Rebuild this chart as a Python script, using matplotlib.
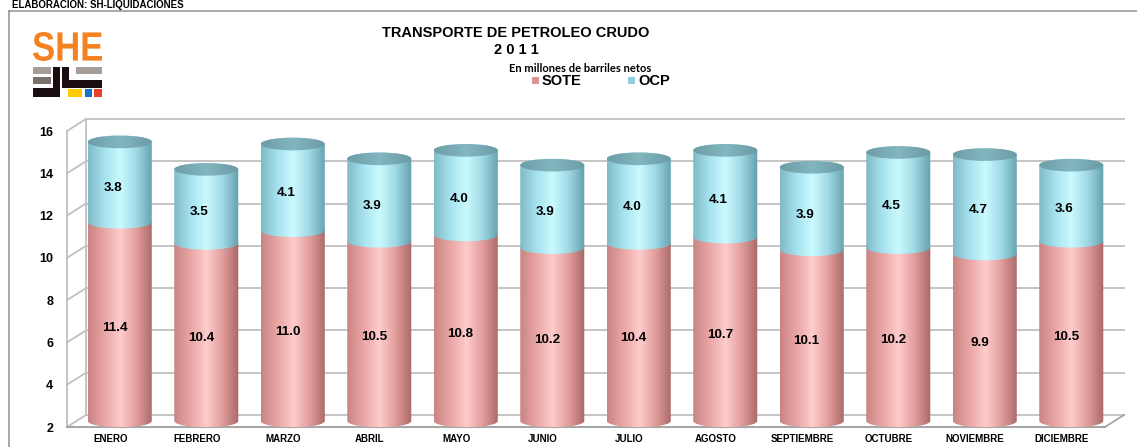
import numpy as np
import matplotlib.pyplot as plt
from matplotlib.colors import LinearSegmentedColormap
from matplotlib.patches import PathPatch, Ellipse, Rectangle
from matplotlib.path import Path
from matplotlib.textpath import TextPath
from matplotlib.font_manager import FontProperties
from matplotlib.transforms import Affine2D

plt.rcParams['font.family'] = ['Liberation Sans', 'DejaVu Sans']

meses = ['ENERO', 'FEBRERO', 'MARZO', 'ABRIL', 'MAYO', 'JUNIO', 'JULIO',
         'AGOSTO', 'SEPTIEMBRE', 'OCTUBRE', 'NOVIEMBRE', 'DICIEMBRE']
sote = [11.4, 10.4, 11.0, 10.5, 10.8, 10.2, 10.4, 10.7, 10.1, 10.2, 9.9, 10.5]
ocp = [3.8, 3.5, 4.1, 3.9, 4.0, 3.9, 4.0, 4.1, 3.9, 4.5, 4.7, 3.6]
y_ticks = [2, 4, 6, 8, 10, 12, 14, 16]

# 3d look
dx = 0.22      # depth in category units
dy = 0.57      # depth in value units
w = 0.37       # cylinder half width
eh = 0.30      # ellipse half height
ymin, ymax = 2, 16

cmap_sote = LinearSegmentedColormap.from_list('sote', ['#c98584', '#e8a5a4', '#ffcccc', '#e19d9c', '#a96767'])
cmap_ocp = LinearSegmentedColormap.from_list('ocp', ['#7fbac6', '#a6e2ee', '#cafaff', '#9fd8e4', '#62a0ad'])
cmap_top = LinearSegmentedColormap.from_list('top', ['#6d9ea8', '#84b6c0', '#6a9ba5'])
grad = np.linspace(0, 1, 256).reshape(1, -1)


def cylinder(ax, cx, y0, y1, cmap):
    t1 = np.linspace(np.pi, 2 * np.pi, 40)
    t2 = np.linspace(0, np.pi, 40)
    c = dy / 2
    xs = np.concatenate([cx + w * np.cos(t1), cx + w * np.cos(t2)])
    ys = np.concatenate([y0 + c + eh * np.sin(t1), y1 + c + eh * np.sin(t2)])
    verts = np.column_stack([xs, ys])
    verts = np.vstack([verts, verts[:1]])
    patch = PathPatch(Path(verts, closed=True), facecolor='none', edgecolor='none')
    ax.add_patch(patch)
    im = ax.imshow(grad, cmap=cmap, aspect='auto', extent=[cx - w, cx + w, y0 - 0.1, y1 + dy + 0.1],
                   interpolation='bilinear', zorder=3)
    im.set_clip_path(patch)


fig = plt.figure(figsize=(11.37, 4.47), dpi=100)

# frame and header
fig.add_artist(plt.Line2D([9 / 1137, 1.0], [1 - 11 / 447, 1 - 11 / 447], color='#999999', lw=1.2))
fig.add_artist(plt.Line2D([9 / 1137, 9 / 1137], [0, 1 - 11 / 447], color='#999999', lw=1.2))
fig.text(12 / 1137, 1 - 8 / 447, 'ELABORACION: SH-LIQUIDACIONES', fontsize=7, fontweight='bold',
         va='baseline', ha='left')

# logo
lg = fig.add_axes([0, 0, 1, 1])
lg.set_xlim(0, 1137)
lg.set_ylim(447, 0)
lg.axis('off')
tp = TextPath((0, 0), 'SHE', size=1, prop=FontProperties(family='Liberation Sans', weight='bold'))
ext = tp.get_extents()
tr = Affine2D().translate(-ext.x0, -ext.y0).scale(69 / ext.width, -29 / ext.height).translate(33, 61)
lg.add_patch(PathPatch(tr.transform_path(tp), color='#f58220', lw=0))
for (x, y, ww, hh, c) in [(33, 67, 18, 7, '#a49d98'), (33, 77, 18, 7, '#7b716c'),
                           (76, 67, 26, 7, '#a49d98'), (33, 88, 26, 9, '#1a0d0f'),
                           (53, 67, 7, 30, '#1a0d0f'), (62, 67, 7, 21, '#1a0d0f'),
                           (62, 80, 40, 8, '#1a0d0f'), (68, 89, 14, 8, '#ffcc00'),
                           (85, 89, 7, 8, '#1874c4'), (94, 89, 8, 8, '#e8402a')]:
    lg.add_patch(Rectangle((x, y), ww, hh, color=c, lw=0))

# title
fig.text(516 / 1137, 1 - 33 / 447, 'TRANSPORTE DE PETROLEO CRUDO', fontsize=10.5, fontweight='bold',
         ha='center', va='center')
fig.text(516 / 1137, 1 - 50 / 447, '2 0 1 1', fontsize=10.5, fontweight='bold', ha='center', va='center')
fig.text(580 / 1137, 1 - 68 / 447, 'En millones de barriles netos', fontsize=8, fontweight='bold',
         ha='center', va='center', family='Lato')
lg.add_patch(Rectangle((532, 77), 7, 7, color='#d99694', lw=0))
lg.text(542, 81, 'SOTE', fontsize=10.5, fontweight='bold', va='center', ha='left')
lg.add_patch(Rectangle((628, 77), 7, 7, color='#93cddd', lw=0))
lg.text(638, 81, 'OCP', fontsize=10.5, fontweight='bold', va='center', ha='left')

# chart
ax = fig.add_axes([67 / 1137, 20 / 447, (1105 - 67) / 1137, 296 / 447])
x = np.arange(len(meses))

grid_c = '#c0c0c0'
for v in y_ticks:
    ax.plot([-0.5 + dx, 11.5 + dx], [v + dy, v + dy], color=grid_c, lw=1.3, clip_on=False, zorder=1)
    ax.plot([-0.5, -0.5 + dx], [v, v + dy], color=grid_c, lw=1.3, clip_on=False, zorder=1)
ax.plot([-0.5, -0.5], [ymin, ymax], color=grid_c, lw=1.3, clip_on=False, zorder=1)
ax.plot([-0.5 + dx, -0.5 + dx], [ymin + dy, ymax + dy], color=grid_c, lw=1.3, clip_on=False, zorder=1)
ax.plot([-0.5, 11.5], [ymin, ymin], color='#a6a6a6', lw=1.5, clip_on=False, zorder=1)
ax.plot([11.5, 11.5 + dx], [ymin, ymin + dy], color='#a6a6a6', lw=1.3, clip_on=False, zorder=1)

for i in range(len(meses)):
    cx = x[i] + dx / 2
    total = sote[i] + ocp[i]
    cylinder(ax, cx, ymin, sote[i], cmap_sote)
    cylinder(ax, cx, sote[i], total, cmap_ocp)
    top = Ellipse((cx, total + dy / 2), 2 * w, 2 * eh, facecolor='none', edgecolor='none')
    ax.add_patch(top)
    im = ax.imshow(grad, cmap=cmap_top, aspect='auto', extent=[cx - w, cx + w, total - 0.1, total + dy + 0.1],
                   interpolation='bilinear', zorder=4)
    im.set_clip_path(top)
    ax.text(x[i] + 0.05, (ymin + sote[i]) / 2, f'{sote[i]:.1f}', ha='center', va='center',
            fontsize=9.7, fontweight='bold', zorder=6)
    ax.text(x[i] + 0.03, sote[i] + ocp[i] / 2, f'{ocp[i]:.1f}', ha='center', va='center',
            fontsize=9.7, fontweight='bold', zorder=6)

ax.set_xlim(-0.5, 11.5)
ax.set_ylim(ymin, ymax)
ax.set_yticks(y_ticks)
ax.set_xticks(x)
ax.set_xticklabels(meses, fontsize=7, fontweight='bold')
ax.tick_params(axis='y', length=0, pad=10, labelsize=9)
ax.tick_params(axis='x', length=0, pad=5)
for lab in ax.get_yticklabels():
    lab.set_fontweight('bold')
for s in ax.spines.values():
    s.set_visible(False)
ax.patch.set_alpha(0)

fig.savefig('out.png', dpi=100)
